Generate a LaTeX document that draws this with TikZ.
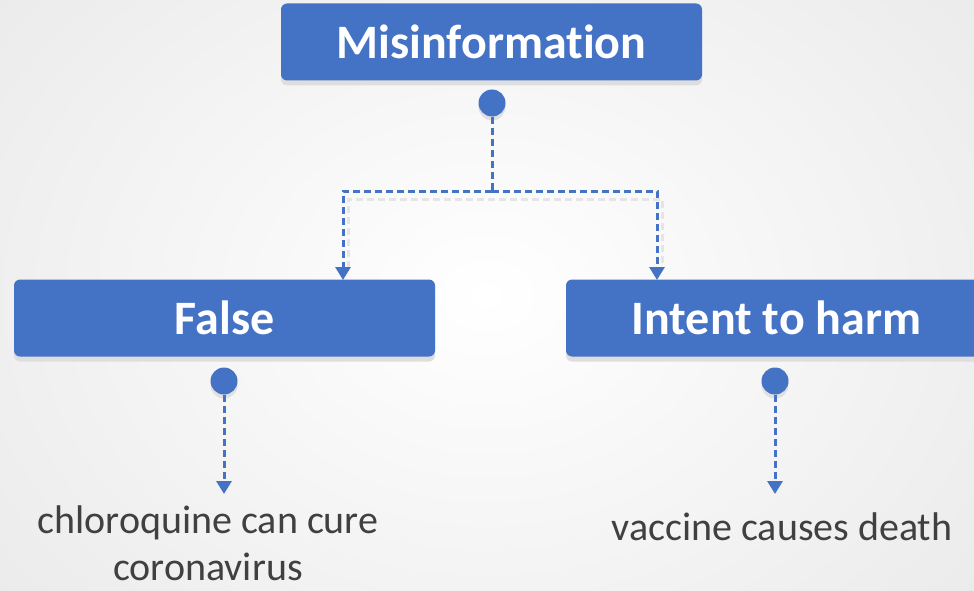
\documentclass[tikz,border=0pt]{standalone}
\usepackage{fontspec}
\setmainfont[Ligatures={NoCommon}]{Carlito}
\usetikzlibrary{arrows.meta,shadows,calc}
\definecolor{boxblue}{HTML}{4472C4}
\definecolor{txtgray}{HTML}{404040}
\tikzset{
  hbox/.style={rectangle, rounded corners=6pt, fill=boxblue, draw=none, text=white,
    font=\fontsize{48}{50}\selectfont\bfseries, minimum width=421pt, minimum height=77pt,
    inner sep=0pt, drop shadow={shadow xshift=0pt, shadow yshift=-5pt, fill=black!13, opacity=1}},
  hdot/.style={circle, fill=boxblue, minimum size=27pt, inner sep=0pt,
    drop shadow={shadow xshift=0pt, shadow yshift=-4pt, fill=black!12, opacity=1}},
  dline/.style={draw=boxblue, line width=3pt, dash pattern=on 7pt off 4pt},
  dshadow/.style={draw=black!10, line width=3pt, dash pattern=on 7pt off 4pt},
  tip/.style={-{Triangle[width=15pt,length=13pt]}},
  lbl/.style={text=txtgray, font=\fontsize{40}{47}\selectfont, align=center, inner sep=0pt}
}
\begin{document}
\begin{tikzpicture}[x=1pt,y=-1pt]
  \useasboundingbox (0,0) rectangle (974,591);
  \clip (0,0) rectangle (974,591);
  \shade[inner color=white, outer color=black!8] (-150,-200) rectangle (1124,791);
  % nodes
  \node[hbox] (mis) at (491.5,42) {Misinformation};
  \node[hbox] (fal) at (224.5,318) {False};
  \node[hbox] (int) at (776.5,318) {Intent to harm};
  \node[hdot] (d0) at (492,103) {};
  \node[hdot] (d1) at (224,381) {};
  \node[hdot] (d2) at (775,381) {};
  \node[lbl] (l1) at (208,543) {chloroquine can cure\\coronavirus};
  \node[lbl] (l2) at (782,527) {vaccine causes death};
  \coordinate (j) at (492,191);
  \coordinate (fa) at (343,280);
  \coordinate (ia) at (657,280);
  % shadow of the tree connector
  \draw[dshadow] (348,268) |- (662,199) -- (662,268);
  % connectors
  \draw[dline] (d0) -- (j);
  \draw[dline,tip] (j) -| (fa);
  \draw[dline,tip] (j) -| (ia);
  \draw[dline,tip] (d1) -- (d1 |- 0,494);
  \draw[dline,tip] (d2) -- (d2 |- 0,494);
\end{tikzpicture}
\end{document}
